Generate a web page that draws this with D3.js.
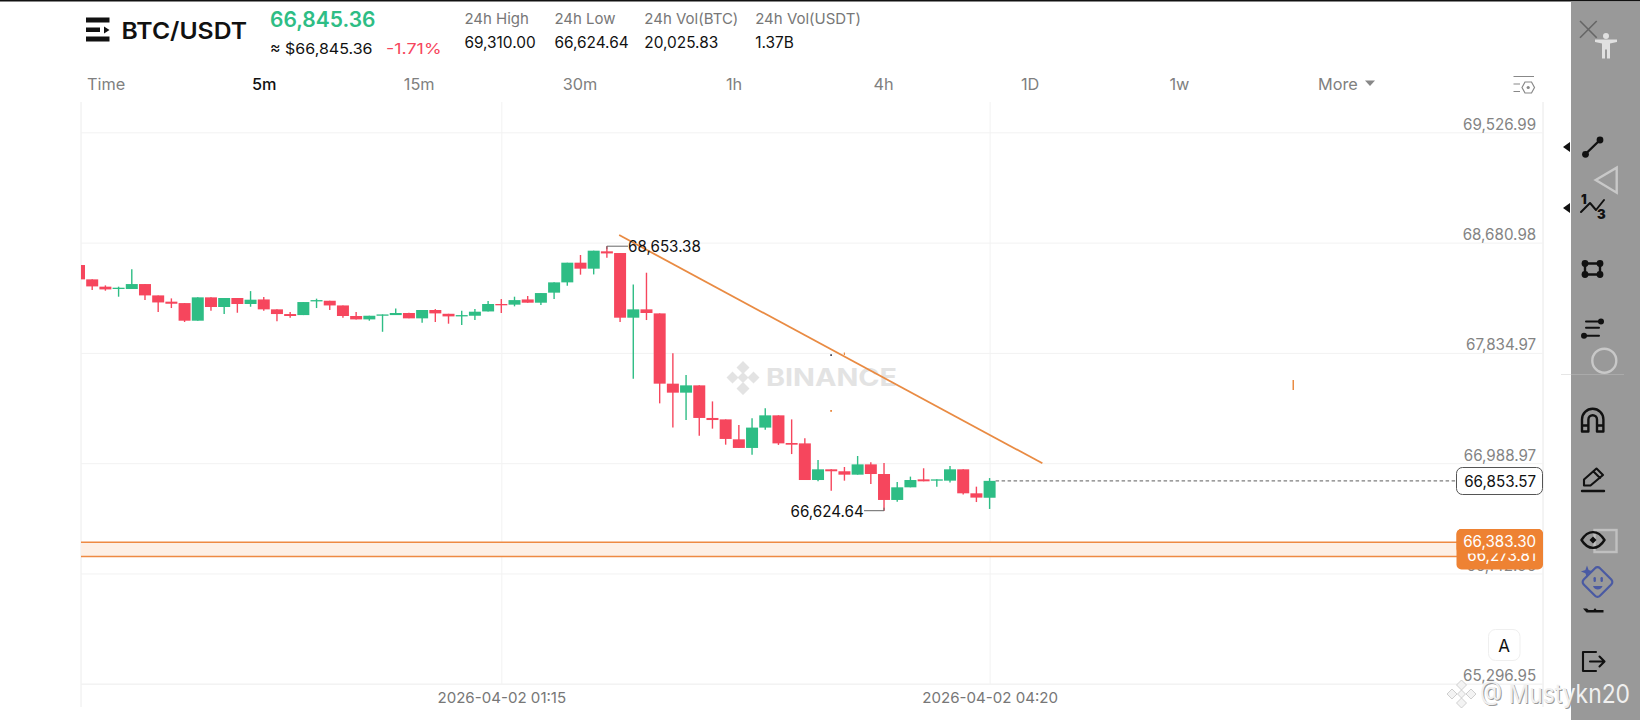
<!DOCTYPE html>
<html><head><meta charset="utf-8">
<script src="https://cdn.jsdelivr.net/npm/d3@7/dist/d3.min.js"></script>
<style>
html,body{margin:0;padding:0;background:#fff;overflow:hidden}
svg{display:block}
text{font-family:Inter,"Noto Sans",sans-serif}
</style></head><body>
<svg id="c" width="1640" height="720"></svg>
<script>
const opens=[68509,68399,68343,68325,68325,68363,68276,68228,68217,68082,
68261,68187,68256,68210,68245,68169,68133,68125,68230,68235,
68199,68118,68092,68120,68125,68141,68100,68164,68135,68118,
68120,68153,68210,68205,68245,68220,68297,68376,68527,68481,
68614,68601,68105,68169,68138,67599,67530,67586,67336,67325,
67172,67106,67262,67356,67144,67141,66860,66942,66927,66901,
66980,66906,66707,66804,66865,66855,66855,66942,66758,66724];
const closes=[68399,68345,68322,68335,68363,68276,68222,68212,68082,68261,
68187,68256,68210,68243,68169,68133,68118,68225,68240,68199,
68118,68092,68120,68130,68141,68100,68164,68138,68115,68125,
68151,68210,68202,68240,68220,68294,68376,68527,68481,68619,
68598,68105,68169,68141,67599,67530,67586,67336,67320,67175,
67106,67262,67356,67141,67131,66860,66942,66927,66901,66980,
66906,66707,66804,66860,66850,66865,66942,66758,66725,66853.57];
const highs=[68509,68399,68353,68343,68476,68363,68276,68253,68217,68261,
68261,68256,68256,68309,68263,68169,68148,68225,68251,68235,
68199,68148,68120,68130,68176,68143,68164,68171,68135,68159,
68171,68233,68248,68266,68271,68294,68376,68527,68586,68619,
68653.38,68601,68360,68450,68138,67832,67666,67586,67463,67325,
67282,67333,67410,67356,67325,67180,67013,66942,66960,67044,
66996,66990,66845,66886,66950,66865,66967,66942,66809,66875];
const lows=[68399,68317,68312,68266,68325,68240,68148,68179,68072,68082,
68158,68133,68143,68189,68158,68077,68105,68125,68179,68164,
68105,68092,68082,67997,68125,68100,68066,68072,68059,68049,
68087,68153,68141,68192,68220,68202,68248,68350,68435,68437,
68565,68072,67637,68087,67448,67262,67320,67200,67254,67131,
67106,67054,67246,67129,67059,66860,66850,66778,66855,66901,
66829,66624.64,66694,66804,66850,66809,66840,66748,66691,66638];
const priceTicks=[69526.99,68680.98,67834.97,66988.97,66142.96,65296.95];
const timeTickIdx=[32,69];
const timeTickLabels=["2026-04-02 01:15","2026-04-02 04:20"];
const zoneTop=66383.30, zoneBottom=66273.81, lastPrice=66853.57;
const highLabel="68,653.38", lowLabel="66,624.64";
const trendIdx=[40.93,73.0], trendPrice=[68739,66988];
const intervals=["Time","5m","15m","30m","1h","4h","1D","1w","More"];
const statHeads=["24h High","24h Low","24h Vol(BTC)","24h Vol(USDT)"];
const statVals=["69,310.00","66,624.64","20,025.83","1.37B"];
const GREEN="#2ebd85",RED="#f6465d",ORANGE="#ee8233";

const svg=d3.select("#c");
const x=d3.scaleLinear().domain([0,69]).range([79,989.6]);
const y=d3.scaleLinear().domain([65296.95,69526.99]).range([683.8,132.3]);
const fmt=d3.format(",.2f");
const L=81,R=1543,T=102,B=684;
const txt=(s,px,py,size,fill,opt={})=>svg.append("text").attr("x",px).attr("y",py).attr("font-size",size).attr("fill",fill)
  .attr("font-weight",opt.w||400).attr("text-anchor",opt.a||"start").attr("textLength",opt.l||null).attr("lengthAdjust",opt.l?"spacingAndGlyphs":null).text(s);

// top line, frame
svg.append("rect").attr("width",1640).attr("height",1.5).attr("fill","#111");
svg.append("line").attr("x1",L).attr("x2",L).attr("y1",T).attr("y2",707).attr("stroke","#ececec").attr("stroke-width",1);
svg.append("line").attr("x1",R).attr("x2",R).attr("y1",T).attr("y2",707).attr("stroke","#e8e8e8").attr("stroke-width",1);

// axes
const yAxis=svg.append("g").attr("transform",`translate(${R},0)`).call(d3.axisLeft(y).tickValues(priceTicks).tickFormat(fmt).tickSize(R-L).tickPadding(0));
yAxis.select(".domain").remove();
yAxis.selectAll("line").attr("stroke","#f2f2f2");
yAxis.selectAll("text").attr("x",-6.8).attr("dy",0).attr("y",-3).attr("fill","#848484").attr("font-size",15.2).attr("font-family","Inter");
const xAxis=svg.append("g").attr("transform",`translate(0,${B})`).call(d3.axisBottom(x).tickValues(timeTickIdx).tickFormat((d,i)=>timeTickLabels[i]).tickSize(-(B-T)).tickPadding(0));
xAxis.select(".domain").attr("d",`M${L},0H${R}`).attr("stroke","#f2f2f2");
xAxis.selectAll("line").attr("stroke","#f2f2f2");
xAxis.selectAll("text").attr("y",19).attr("dy",0).attr("fill","#777").attr("font-size",15.1).attr("font-family","Inter");

// watermark
const wm=svg.append("g").attr("fill","#e3e3e3");
wm.append("path").attr("d","M743,361l6.5,6.5-6.5,6.5-6.5-6.5z M743,382l6.5,6.5-6.5,6.5-6.5-6.5z M732.5,371.5l6,6-6,6-6-6z M753.5,371.5l6,6-6,6-6-6z M743,372l5.5,5.5-5.5,5.5-5.5-5.5z");
wm.append("text").attr("x",766).attr("y",386).attr("font-size",24.5).attr("font-weight",700).attr("textLength",131).attr("lengthAdjust","spacingAndGlyphs").text("BINANCE");

// zone
const zone=svg.append("g");
zone.append("rect").attr("x",L).attr("width",1457-L).attr("y",y(zoneTop)).attr("height",y(zoneBottom)-y(zoneTop)).attr("fill","#fdf0e6");
[zoneTop,zoneBottom].forEach(v=>zone.append("line").attr("x1",L).attr("x2",1457).attr("y1",y(v)).attr("y2",y(v)).attr("stroke","#ee8a43").attr("stroke-width",1.5));

// candles
svg.append("clipPath").attr("id","plot").append("rect").attr("x",L).attr("y",T).attr("width",R-L).attr("height",B-T);
const data=opens.map((o,i)=>({i,o,c:closes[i],h:highs[i],l:lows[i]}));
const cg=svg.append("g").attr("clip-path","url(#plot)");
const col=d=>d.c>=d.o?GREEN:RED;
cg.selectAll(".w").data(data).join("line").attr("x1",d=>x(d.i)).attr("x2",d=>x(d.i)).attr("y1",d=>y(d.h)).attr("y2",d=>y(d.l)).attr("stroke",col).attr("stroke-width",1.4);
cg.selectAll(".b").data(data).join("rect").attr("x",d=>x(d.i)-6).attr("width",12)
  .attr("y",d=>y(Math.max(d.o,d.c))).attr("height",d=>Math.max(1.3,Math.abs(y(d.o)-y(d.c)))).attr("fill",col);

// last price dashed
svg.append("line").attr("x1",x(69)+6).attr("x2",1456).attr("y1",y(lastPrice)).attr("y2",y(lastPrice)).attr("stroke","#7d7d7d").attr("stroke-width",1.3).attr("stroke-dasharray","3.5,2.5");

// trend line
svg.append("line").attr("x1",x(trendIdx[0])).attr("y1",y(trendPrice[0])).attr("x2",x(trendIdx[1])).attr("y2",y(trendPrice[1])).attr("stroke","#e98b43").attr("stroke-width",1.8);

// hi/lo labels
const hy=y(68653.38), ly=y(66624.64);
svg.append("path").attr("d",`M${x(40)},${hy+3}V${hy}H628`).attr("fill","none").attr("stroke","#666").attr("stroke-width",1);
txt(highLabel,628,251.7,15.2,"#111");
svg.append("path").attr("d",`M${x(61)},${ly-3}V${ly}H864`).attr("fill","none").attr("stroke","#666").attr("stroke-width",1);
txt(lowLabel,790.5,516.7,15.2,"#111");

// stray marks
svg.append("rect").attr("x",830.3).attr("y",354.3).attr("width",1.6).attr("height",1.6).attr("fill","#223");
svg.append("rect").attr("x",843.8).attr("y",352.5).attr("width",1.2).attr("height",2.5).attr("fill","#e98b43");
svg.append("rect").attr("x",830.2).attr("y",410).attr("width",1.8).attr("height",1.8).attr("fill","#e98b43");
svg.append("rect").attr("x",1292.5).attr("y",380).attr("width",1.5).attr("height",10).attr("fill","#e98b43");

// price tags
svg.append("rect").attr("x",1456.5).attr("y",467.5).attr("width",86).attr("height",27).attr("rx",6).attr("fill","#fff").attr("stroke","#555").attr("stroke-width",1);
txt(fmt(lastPrice),1536.2,486.7,15.2,"#111",{a:"end"});
svg.append("rect").attr("x",1456.5).attr("y",529).attr("width",86.5).attr("height",40.5).attr("rx",5).attr("fill",ORANGE);
txt(fmt(zoneBottom),1536.2,561,15.2,"#fff",{a:"end"});
svg.append("rect").attr("x",1456.5).attr("y",529).attr("width",86.5).attr("height",24.5).attr("rx",5).attr("fill",ORANGE);
txt(fmt(zoneTop),1536.2,547,15.2,"#fff",{a:"end"});

// A button
svg.append("rect").attr("x",1488.5).attr("y",629.5).attr("width",31.5).attr("height",31).attr("rx",7).attr("fill","#fff").attr("stroke","#efefef");
txt("A",1504,651.5,17,"#111",{a:"middle"});

// header
const ic=svg.append("g").attr("fill","#111");
ic.append("rect").attr("x",86).attr("y",17.5).attr("width",23.5).attr("height",5);
ic.append("rect").attr("x",86).attr("y",27.5).attr("width",14).attr("height",4.5);
ic.append("path").attr("d","M104,26.5l5.5,3.5-5.5,3.5z");
ic.append("rect").attr("x",86).attr("y",36.5).attr("width",23.5).attr("height",5);
txt("BTC/USDT",121.5,38.7,23,"#111",{w:600,l:125.5});
txt("66,845.36",270,26.5,21,GREEN,{w:600,l:105.5});
txt("≈ $66,845.36",270,53.5,14.7,"#111",{l:102.5});
txt("-1.71%",386,53.5,14.7,RED,{l:55.5});
[464.4,554.4,644.3,755.2].forEach((px,i)=>{
  txt(statHeads[i],px,24,15,"#777");
  txt(statVals[i],px,47.5,15.4,"#111");
});
[87,252,403.8,562.8,726,873.4,1021,1169.5,1318].forEach((px,i)=>txt(intervals[i],px,89.5,16.3,i==1?"#111":"#808080",{w:i==1?500:400}));
svg.append("path").attr("d","M1365,80.5h10l-5,5.5z").attr("fill","#888");
const st=svg.append("g").attr("fill","none").attr("stroke","#888").attr("stroke-width",1.2);
st.append("path").attr("d","M1513.5,76.5H1534 M1513.5,84H1520 M1513.5,91.5H1520");
st.append("path").attr("d","M1522,87.5l3,-5.5h6.5l3,5.5l-3,5.5h-6.5z");
svg.append("circle").attr("cx",1528.2).attr("cy",87.5).attr("r",1.6).attr("fill","#888");

// right tool panel
svg.append("rect").attr("x",1571).attr("y",1.5).attr("width",69).attr("height",718.5).attr("fill","#999");
svg.append("path").attr("d","M1580,21L1596.7,37.7M1596.7,21L1580,37.7").attr("stroke","#666").attr("stroke-width",1.6);
const lt="#e0e0e0";
const pers=svg.append("g").attr("fill",lt);
pers.append("circle").attr("cx",1606).attr("cy",36).attr("r",3);
pers.append("path").attr("d","M1595,39.5h22v2.5l-7,1.5v15h-3v-9h-2v9h-3v-15l-7,-1.5z");
[147,208].forEach(v=>svg.append("path").attr("d",`M1570,${v-5}v10l-7,-5z`).attr("fill","#111"));
const k=svg.append("g").attr("fill","none").attr("stroke","#111").attr("stroke-width",2.4).attr("stroke-linecap","round").attr("stroke-linejoin","round");
const dot=(cx,cy,r=3.4)=>svg.append("circle").attr("cx",cx).attr("cy",cy).attr("r",r).attr("fill","#111");
k.append("path").attr("d","M1585.5,154L1600,140"); dot(1585.5,154.3); dot(1600,140);
k.append("path").attr("d","M1581,212L1590,203L1596,210L1604,200").attr("stroke-width",2);
txt("1",1581,204,12.5,"#111",{w:900}); txt("3",1597,219,13,"#111",{w:900});
k.append("path").attr("d","M1585,263.5H1600V274.5H1585Z");
[[1585,263.5],[1600,263.5],[1585,274.5],[1600,274.5]].forEach(p=>dot(p[0],p[1]));
k.append("path").attr("d","M1586,321.5H1600M1586,327.8H1599M1585,335.7H1599").attr("stroke-width",2);
dot(1601,321.5,3);dot(1584,335.7,3);
svg.append("path").attr("d","M1561,374.5H1571").attr("stroke","#e6e6e6");
svg.append("path").attr("d","M1571,374.5H1624").attr("stroke","#aaa");
svg.append("path").attr("d","M1595.7,180L1616.7,167.7V192.7Z").attr("fill","none").attr("stroke","#c8c8c8").attr("stroke-width",2.4);
svg.append("circle").attr("cx",1604.3).attr("cy",360.7).attr("r",12).attr("fill","none").attr("stroke","#c8c8c8").attr("stroke-width",2.4);
// magnet
k.append("path").attr("d","M1582,431.5V419.5a10.7,10.7 0 0 1 21.4,0V431.5H1597V419.5a4.3,4.3 0 0 0 -8.6,0V431.5Z M1582,425.5H1588.4M1597,425.5H1603.4");
// pencil
k.append("path").attr("d","M1584,485.5L1584,479.5L1596.5,468.5L1603,475L1590.5,485.5Z M1593.5,471.5L1600,478").attr("stroke-width",2.1);
k.append("path").attr("d","M1582,491H1604");
// eye: pale square first, eye over it
svg.append("rect").attr("x",1594.5).attr("y",530).attr("width",22).attr("height",22).attr("fill","#fff").attr("fill-opacity",.06).attr("stroke","#c0c0c0").attr("stroke-width",2.4);
const eg=svg.append("g").attr("fill","none").attr("stroke","#111").attr("stroke-width",2.4).attr("stroke-linejoin","round");
eg.append("path").attr("d","M1581.5,540C1588,529.5 1598,529.5 1604.5,540C1598,550.5 1588,550.5 1581.5,540Z");
svg.append("path").attr("d","M1589.5,540l3.5,-3.5l3.5,3.5l-3.5,3.5z").attr("fill","#111");
// face
const fc=svg.append("g").attr("stroke","#4a5aa3").attr("fill","none").attr("stroke-width",2.2);
fc.append("rect").attr("x",-11.5).attr("y",-11.5).attr("width",23).attr("height",23).attr("rx",3.5).attr("transform","translate(1597.5,582) rotate(45)");
svg.append("path").attr("d","M1587,565.5l1.6,4.5l4.5,1.6l-4.5,1.6l-1.6,4.5l-1.6,-4.5l-4.5,-1.6l4.5,-1.6z").attr("fill","#4a5aa3");
svg.append("rect").attr("x",1593.5).attr("y",577).attr("width",2.4).attr("height",5).attr("rx",1.2).attr("fill","#4a5aa3");
svg.append("rect").attr("x",1600.5).attr("y",577).attr("width",2.4).attr("height",5).attr("rx",1.2).attr("fill","#4a5aa3");
svg.append("path").attr("d","M1593,586a5,5 0 0 0 9.5,0z").attr("fill","#4a5aa3");
svg.append("path").attr("d","M1583,608.5h4l1.5,1.5h5l1,-1.5h1l1,1.5h7v2.5h-17z").attr("fill","#111");
// exit
k.append("path").attr("d","M1596,652H1583V671H1596 M1590,661.5H1604M1599.5,656.5L1604.5,661.5L1599.5,666.5").attr("stroke-width",2.1);

// image watermark
const lg=svg.append("g").attr("fill","#f3f3f3").attr("stroke","#c4c4c4").attr("stroke-width",.8);
lg.append("path").attr("d","M1461.5,680l5,5-5,5-5-5z M1461.5,698l5,5-5,5-5-5z M1452,689l5,5-5,5-5-5z M1471,689l5,5-5,5-5-5z M1461.5,690l4,4-4,4-4-4z");
txt("@ Mustykn20",1481,703.8,26,"#9a9a9a",{l:150});
txt("@ Mustykn20",1480,702.8,26,"#f0f0f0",{l:150});
</script></body></html>
